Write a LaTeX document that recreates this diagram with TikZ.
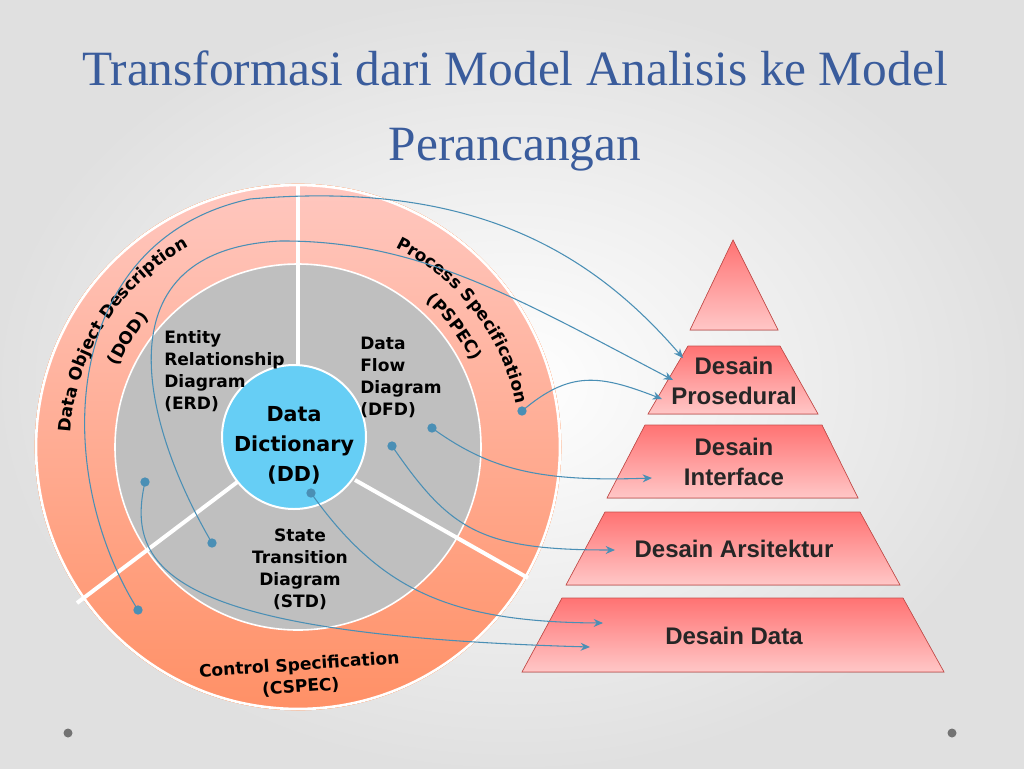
\documentclass[tikz,border=0pt]{standalone}
\usepackage{fontspec}
\setmainfont{Liberation Serif}
\newfontfamily\vb{DejaVu Sans}
\newfontfamily\ar{Liberation Sans}
\usetikzlibrary{decorations.text,arrows.meta,shadows}
\newcommand\ringfont{\vb\bfseries\fontsize{12.8}{16.5}\selectfont}
\definecolor{conn}{HTML}{4A8FB5}
\definecolor{titleblue}{HTML}{3A5C9C}
\definecolor{pyredge}{HTML}{C9504D}
\begin{document}
\begin{tikzpicture}[x=0.75pt,y=0.75pt,
  conline/.style={draw=conn,line width=0.8pt,-{Stealth[length=7pt,width=6pt]}},
  dotmark/.style={circle,fill=conn,inner sep=0pt,minimum size=7pt},
  pyr/.style={draw=pyredge,line width=0.5pt,top color=red!55!white,bottom color=red!22!white},
  pyrtext/.style={font=\ar\bfseries\fontsize{18}{22}\selectfont,text=black!85,align=center},
  intext/.style={font=\ringfont,text=black,align=left},
  divider/.style={white,line width=3pt}]
\useasboundingbox (0,0) rectangle (1024,-768);
\shade[inner color=white,outer color=black!12] (0,0) rectangle (1024,-768);
% title
\node[font=\fontsize{37}{44}\selectfont,text=titleblue] (t1) at (515,-68) {Transformasi dari Model Analisis ke Model};
\node[font=\fontsize{37}{44}\selectfont,text=titleblue] (t2) at (515,-150) {Perancangan};
% corner dots
\fill[black!55] (68,-733) circle (4.5);
\fill[black!55] (952,-733) circle (4.5);
% circles
\coordinate (C) at (298,-447);
\shade[top color=orange!25!red!25!white,bottom color=orange!55!red!60!white,draw=orange!70!red,line width=0.5pt] (C) circle (263);
\draw[white,line width=2pt] (C) circle (262);
\fill[black!25] (C) circle (183);
\draw[white,line width=1.2pt] (C) circle (183);
\draw[divider] (298,-184) -- (298,-370);
\draw[divider] (77,-603) -- (240,-480);
\draw[divider] (528,-578) -- (355,-480);
\node[circle,fill=cyan!60,draw=white,line width=1.5pt,minimum size=108pt,inner sep=0pt] (dd) at (294,-437) {};
\node[font=\vb\bfseries\fontsize{15.5}{22.5}\selectfont,align=center,text=black] (ddt) at (294,-445) {Data\\Dictionary\\(DD)};
% ring texts
\path[decorate,decoration={text along path,text align=center,text={|\ringfont|Data Object Description}}] (C) ++(200:228) arc[start angle=200,end angle=95,radius=228];
\path[decorate,decoration={text along path,text align=center,text={|\ringfont|(DOD)}}] (C) ++(200:197) arc[start angle=200,end angle=95,radius=197];
\path[decorate,decoration={text along path,text align=center,text={|\ringfont|Process Specification}}] (C) ++(85:222) arc[start angle=85,end angle=-10,radius=222];
\path[decorate,decoration={text along path,text align=center,text={|\ringfont|(PSPEC)}}] (C) ++(85:194) arc[start angle=85,end angle=-10,radius=194];
\node[font=\ringfont,align=center,rotate=4,text=black] (cspec) at (300,-676) {Control Specification\\(CSPEC)};
% inner texts
\node[intext,anchor=north west,inner sep=0pt] (erd) at (164,-330) {Entity\\Relationship\\Diagram\\(ERD)};
\node[intext,anchor=north west,inner sep=0pt] (dfd) at (360,-337) {Data\\Flow\\Diagram\\(DFD)};
\node[intext,align=center,inner sep=0pt] (std) at (300,-569) {State\\Transition\\Diagram\\(STD)};
% pyramid
\filldraw[pyr] (733,-240) -- (778,-330) -- (690,-330) -- cycle;
\filldraw[pyr] (688,-346) -- (780,-346) -- (818,-414) -- (648,-414) -- cycle;
\filldraw[pyr] (645,-425) -- (822,-425) -- (858,-498) -- (607,-498) -- cycle;
\filldraw[pyr] (605,-512) -- (860,-512) -- (900,-585) -- (566,-585) -- cycle;
\filldraw[pyr] (562,-598) -- (903,-598) -- (944,-672) -- (522,-672) -- cycle;
\node[pyrtext] (p1) at (734,-381) {Desain\\Prosedural};
\node[pyrtext] (p2) at (734,-462) {Desain\\Interface};
\node[pyrtext] (p3) at (734,-549) {Desain Arsitektur};
\node[pyrtext] (p4) at (734,-636) {Desain Data};
% connector endpoints
\coordinate (eA) at (683,-358);
\coordinate (eB) at (673,-380);
\coordinate (eC) at (662,-399);
\coordinate (eD) at (652,-478);
\coordinate (eE) at (615,-550);
\coordinate (eF) at (603,-623);
\coordinate (eG) at (590,-647);
\node[dotmark] (sA) at (138,-610) {};
\node[dotmark] (sB) at (212,-543) {};
\node[dotmark] (sC) at (522,-411) {};
\node[dotmark] (sD) at (432,-428) {};
\node[dotmark] (sE) at (392,-446) {};
\node[dotmark] (sF) at (311,-493) {};
\node[dotmark] (sG) at (145,-482) {};
\draw[conline] (sA.center) .. controls (50,-470) and (60,-240) .. (250,-199) .. controls (470,-180) and (590,-250) .. (eA);
\draw[conline] (sB.center) .. controls (140,-420) and (100,-250) .. (280,-241) .. controls (420,-240) and (520,-300) .. (eB);
\draw[conline] (sC.center) .. controls (570,-370) and (600,-375) .. (eC);
\draw[conline] (sD.center) .. controls (490,-470) and (540,-482) .. (eD);
\draw[conline] (sE.center) .. controls (450,-530) and (480,-550) .. (eE);
\draw[conline] (sF.center) .. controls (380,-590) and (450,-622) .. (eF);
\draw[conline] (sG.center) .. controls (125,-570) and (170,-635) .. (eG);
\end{tikzpicture}
\end{document}
